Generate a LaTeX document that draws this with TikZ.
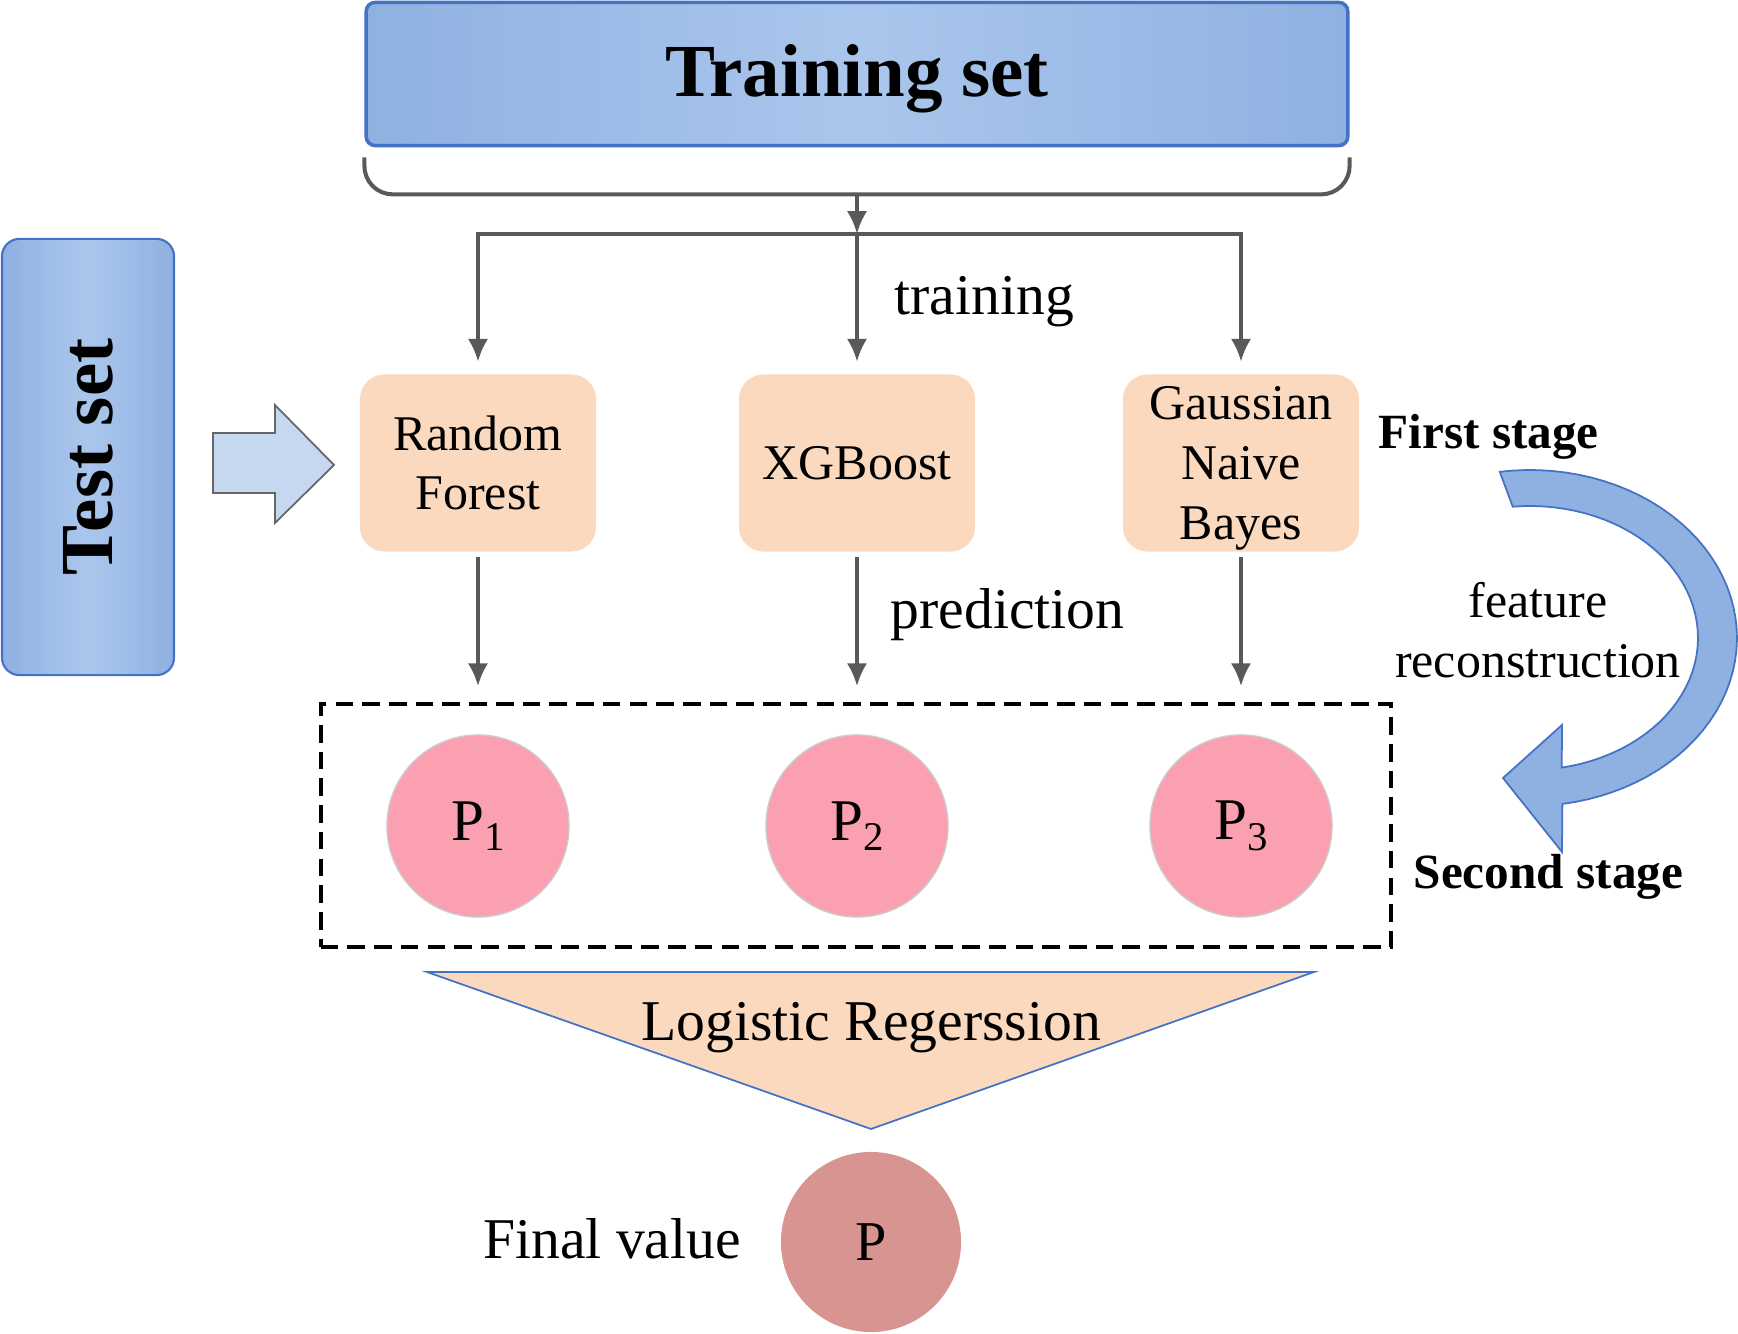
\documentclass[tikz,border=0pt]{standalone}
\usepackage{fontspec}
\setmainfont{Liberation Serif}
\usepackage{graphicx}
\usetikzlibrary{arrows.meta}
\definecolor{setblue}{RGB}{143,177,225}
\definecolor{setlight}{RGB}{170,198,236}
\definecolor{setedge}{RGB}{68,114,196}
\definecolor{modelpeach}{RGB}{250,217,190}
\definecolor{probpink}{RGB}{250,160,176}
\definecolor{finalred}{RGB}{216,148,145}
\definecolor{linegray}{RGB}{89,89,89}
\definecolor{arrowblue}{RGB}{197,216,240}
\newcommand\psub[1]{P\raisebox{-3pt}{\fontsize{11.6}{12}\selectfont #1}}
\begin{document}
\begin{tikzpicture}[x=0.01cm,y=0.01cm,
	setbox/.style={draw=setedge,line width=1pt,left color=setblue,right color=setblue,middle color=setlight,inner sep=0pt,font=\bfseries\fontsize{21.3}{24}\selectfont},
	model/.style={fill=modelpeach,rounded corners=7pt,minimum width=2.36cm,minimum height=1.77cm,align=center,inner sep=0pt,font=\fontsize{14.2}{17}\selectfont},
	prob/.style={circle,fill=probpink,draw=black!20,line width=0.4pt,minimum size=1.82cm,inner sep=0pt,font=\fontsize{16.8}{18}\selectfont},
	conn/.style={draw=linegray,line width=1.15pt},
	arr/.style={conn,-{Latex[length=6.5pt,width=5.8pt]}},
	lbl/.style={inner sep=0pt,font=\fontsize{16.4}{18}\selectfont},
	stage/.style={inner sep=0pt,font=\bfseries\fontsize{14}{16}\selectfont}]
	\useasboundingbox (0,0) rectangle (1738,-1334);
	\node[setbox,rounded corners=2.5pt,minimum width=9.81cm,minimum height=1.43cm,text depth=2pt] (train) at (857,-74) {Training set};
	\node[setbox,line width=0.6pt,rounded corners=5pt,minimum width=1.72cm,minimum height=4.36cm] (test) at (88,-457) {\rotatebox{90}{Test set}};
	\node[model] (rf) at (478,-463) {Random\\Forest};
	\node[model] (xgb) at (857,-463) {XGBoost};
	\node[model,text depth=0pt] (gnb) at (1241,-463) {Gaussian\\Naive\\Bayes};
	\node[prob] (p1) at (478,-826) {\psub{1}};
	\node[prob] (p2) at (857,-826) {\psub{2}};
	\node[prob] (p3) at (1241,-826) {\psub{3}};
	\node[draw,line width=1.15pt,dash pattern=on 5pt off 2.6pt,minimum width=10.70cm,minimum height=2.43cm,inner sep=0pt] (level2) at (856,-825.5) {};
	\draw[draw=setedge,line width=0.5pt,fill=modelpeach] (427,-972) -- (1314,-972) -- (871,-1129) -- cycle;
	\node[lbl,anchor=base] (lr) at (871,-1041) {Logistic Regerssion};
	\node[prob,fill=finalred,draw=none,minimum size=1.80cm,font=\fontsize{16}{18}\selectfont] (final) at (871,-1242) {P};
	\node[lbl,anchor=base] (fv) at (612,-1259) {Final value};
	\draw[conn,rounded corners=8pt] ([yshift=-0.1cm]train.south west) -- ([yshift=-0.47cm]train.south west) -- ([yshift=-0.47cm]train.south east) -- ([yshift=-0.1cm]train.south east);
	\coordinate (brace) at ([yshift=-0.47cm]train.south);
	\coordinate (split) at (857,-234);
	\draw[arr] (brace) -- (split);
	\draw[arr] (split) -- ([yshift=0.12cm]xgb.north);
	\draw[arr] (split) -| ([yshift=0.12cm]rf.north);
	\draw[arr] (split) -| ([yshift=0.12cm]gnb.north);
	\foreach \m/\p in {rf/p1,xgb/p2,gnb/p3}
		\draw[arr] ([yshift=-0.05cm]\m.south) -- ([yshift=0.48cm]\p.north);
	\draw[draw=black!60,line width=0.5pt,fill=arrowblue] (213,-433) -- (275,-433) -- (275,-405) -- (334,-465) -- (275,-523) -- (275,-493) -- (213,-493) -- cycle;
	\node[lbl,anchor=base west] (trn) at (894,-315) {training};
	\node[lbl,anchor=base west] (pred) at (890,-629) {prediction};
	\node[stage,anchor=base west] (first) at (1378,-449) {First stage};
	\node[stage,anchor=base west] (second) at (1413,-889) {Second stage};
	\node[inner sep=0pt,align=center,font=\fontsize{14.2}{17}\selectfont] (recon) at (1538,-630) {feature\\reconstruction};
	\draw[draw=setedge,line width=0.5pt,fill=setblue] plot[domain=98.4:-81,samples=50] ({1530+207*cos(\x)},{-638+168*sin(\x)}) -- (1562,-852) -- (1503,-778) -- (1562,-725) -- plot[domain=-79.1:95.9,samples=50] ({1530+168*cos(\x)},{-638+132*sin(\x)}) -- cycle;
\end{tikzpicture}
\end{document}
